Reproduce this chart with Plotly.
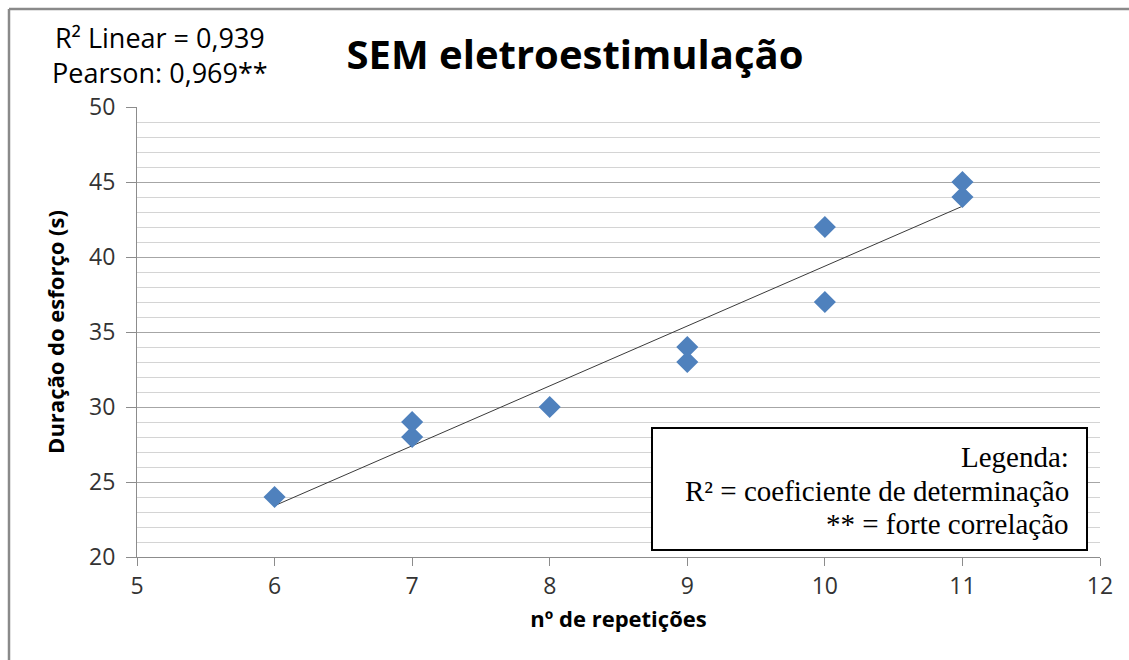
import numpy as np
import plotly.graph_objects as go

# dados
repeticoes = [6, 7, 7, 8, 9, 9, 10, 10, 11, 11]
duracao = [24, 28, 29, 30, 33, 34, 37, 42, 44, 45]

x_ticks = [5, 6, 7, 8, 9, 10, 11, 12]
y_ticks = [20, 25, 30, 35, 40, 45, 50]

titulo = "SEM eletroestimulação"
txt_stats = "R² Linear = 0,939<br>Pearson: 0,969**"
linhas_legenda = ["Legenda:", "R² = coeficiente de determinação", "** = forte correlação"]

# linha de tendência (regressão linear)
a, b = np.polyfit(repeticoes, duracao, 1)
x_fit = [min(repeticoes), max(repeticoes)]
y_fit = [a * v + b for v in x_fit]

W, H = 1129, 660
# área do gráfico em pixels
PX0, PX1, PY0, PY1 = 137, 1100, 107, 557
def px(x):
    return (x - PX0) / (PX1 - PX0)
def py(y):
    return (PY1 - y) / (PY1 - PY0)

fig = go.Figure()
fig.add_trace(go.Scatter(x=x_fit, y=y_fit, mode="lines",
                         line=dict(color="#3a3a3a", width=1), hoverinfo="skip"))
fig.add_trace(go.Scatter(x=repeticoes, y=duracao, mode="markers",
                         marker=dict(symbol="diamond", size=17, color="#4F81BD")))

font_ui = "Open Sans, DejaVu Sans, sans-serif"

fig.update_layout(
    width=W, height=H,
    margin=dict(l=PX0, r=W - PX1, t=PY0, b=H - PY1),
    paper_bgcolor="white", plot_bgcolor="white",
    showlegend=False,
    font=dict(family=font_ui, color="#333333"),
    title=dict(text="<b>" + titulo + "</b>", x=575 / W, xanchor="center",
               y=1 - 55 / H, yanchor="middle",
               font=dict(size=40, color="black", family=font_ui)),
    xaxis=dict(range=[5, 12], tickvals=x_ticks, showgrid=False, zeroline=False,
               showline=True, linecolor="#8c8c8c", linewidth=1,
               ticks="outside", ticklen=8, tickcolor="#8c8c8c",
               tickfont=dict(size=23, color="#333333"),
               title=dict(text="<b>nº de repetições</b>", standoff=12,
                          font=dict(size=22, color="black"))),
    yaxis=dict(range=[20, 50], tickvals=y_ticks, zeroline=False,
               showgrid=True, gridcolor="#a6a6a6", gridwidth=1,
               minor=dict(dtick=1, showgrid=True, gridcolor="#d4d4d4", gridwidth=1),
               showline=True, linecolor="#8c8c8c", linewidth=1,
               ticks="outside", ticklen=10, tickcolor="#8c8c8c",
               tickfont=dict(size=23, color="#333333"),
               ticklabelstandoff=6,
               title=dict(text="<b>Duração do esforço (s)</b>", standoff=18,
                          font=dict(size=22, color="black"))),
)

# moldura externa (só topo e esquerda visíveis)
borda = dict(color="#8a8a8a", width=2.5)
fig.add_shape(type="line", xref="paper", yref="paper",
              x0=px(9), x1=px(1140), y0=py(9), y1=py(9), line=borda)
fig.add_shape(type="line", xref="paper", yref="paper",
              x0=px(9), x1=px(9), y0=py(9), y1=py(670), line=borda)

fig.add_annotation(text=txt_stats, xref="paper", yref="paper",
                   x=px(160), y=py(55), xanchor="center", yanchor="middle",
                   showarrow=False, align="center",
                   font=dict(size=27, color="black", family=font_ui))

# caixa de legenda
fig.add_shape(type="rect", xref="paper", yref="paper",
              x0=px(652), x1=px(1087), y0=py(550), y1=py(428),
              line=dict(color="black", width=2), fillcolor="white", layer="above")
for texto, yy in zip(linhas_legenda, [457, 491, 524]):
    fig.add_annotation(text=texto, xref="paper", yref="paper",
                       x=px(1071), y=py(yy), xanchor="right", yanchor="middle",
                       showarrow=False, align="right",
                       font=dict(size=29, color="black",
                                 family="Liberation Serif, Times New Roman, serif"))

# tira a margem padrão do body para a figura ocupar a janela toda
fig.write_html("out.html", config={"displayModeBar": False},
               post_script="document.body.style.margin='0';"
               "document.documentElement.style.overflow='hidden';")
